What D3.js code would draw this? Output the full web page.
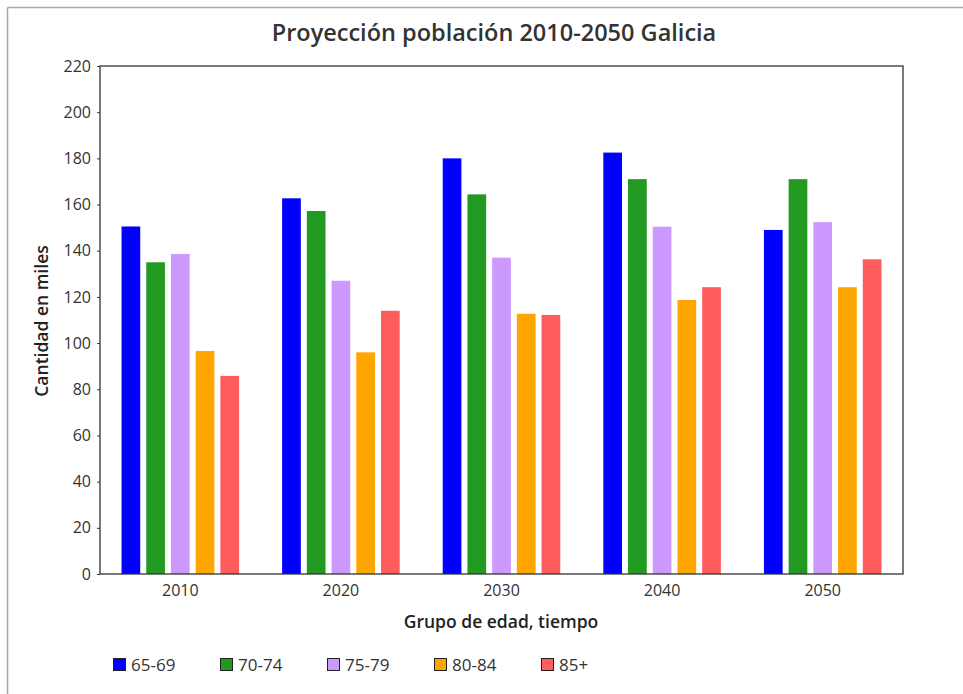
<!DOCTYPE html>
<html>
<head>
<meta charset="utf-8">
<script src="https://cdn.jsdelivr.net/npm/d3@7"></script>
<style>
  html, body { margin: 0; padding: 0; background: #fff; }
  svg { display: block; font-family: "Open Sans", "Noto Sans", sans-serif; }
</style>
</head>
<body>
<svg id="chart" width="963" height="694"></svg>
<script>
// Population projection for Galicia by age group (thousands)
const years = ["2010", "2020", "2030", "2040", "2050"];
const groups = ["65-69", "70-74", "75-79", "80-84", "85+"];
const colors = ["#0000ff", "#229a22", "#cc99ff", "#ffa500", "#ff5c5c"];
const v6569 = [150.5, 162.7, 180.0, 182.5, 149.0];
const v7074 = [135.0, 157.2, 164.4, 171.0, 171.0];
const v7579 = [138.6, 127.0, 137.0, 150.4, 152.4];
const v8084 = [96.6, 96.0, 112.7, 118.7, 124.2];
const v85 = [85.8, 114.0, 112.2, 124.2, 136.3];
const yTicks = [0, 20, 40, 60, 80, 100, 120, 140, 160, 180, 200, 220];

const seriesValues = [v6569, v7074, v7579, v8084, v85];

const svg = d3.select("#chart");
const W = 963, H = 694;
const m = { left: 100, right: 903, top: 66, bottom: 574 };

// page border (top and left edges)
svg.append("line").attr("x1", 7.5).attr("x2", W).attr("y1", 7.5).attr("y2", 7.5)
  .attr("stroke", "#a8a8a8").attr("stroke-width", 1.5);
svg.append("line").attr("x1", 7.5).attr("x2", 7.5).attr("y1", 7.5).attr("y2", H)
  .attr("stroke", "#a8a8a8").attr("stroke-width", 1.5);

const x0 = d3.scaleBand().domain(years).range([m.left, m.right])
  .paddingInner(0.268).paddingOuter(0.134);
const x1 = d3.scaleBand().domain(groups).range([0, x0.bandwidth()])
  .paddingInner(0.243).paddingOuter(0);
const y = d3.scaleLinear().domain([0, 220]).range([m.bottom, m.top]);

// bars
years.forEach((yr, i) => {
  const g = svg.append("g").attr("transform", `translate(${x0(yr)},0)`);
  g.selectAll("rect").data(groups).join("rect")
    .attr("x", d => x1(d))
    .attr("width", x1.bandwidth())
    .attr("y", (d, j) => y(seriesValues[j][i]))
    .attr("height", (d, j) => y(0) - y(seriesValues[j][i]))
    .attr("fill", (d, j) => colors[j]);
});

// y axis
const yAxis = svg.append("g").attr("transform", `translate(${m.left},0)`)
  .call(d3.axisLeft(y).tickValues(yTicks).tickSize(3).tickPadding(6));
yAxis.select(".domain").remove();
yAxis.selectAll("line").attr("stroke", "#333");
yAxis.selectAll("text").attr("font-size", 16).attr("fill", "#333")
  .attr("font-family", "'Open Sans', sans-serif");

// x axis labels
const xAxis = svg.append("g").attr("transform", `translate(0,${m.bottom})`)
  .call(d3.axisBottom(x0).tickSize(0).tickPadding(11));
xAxis.select(".domain").remove();
xAxis.selectAll("text").attr("font-size", 16).attr("fill", "#333")
  .attr("font-family", "'Open Sans', sans-serif");

// plot frame
svg.append("rect")
  .attr("x", m.left).attr("y", m.top)
  .attr("width", m.right - m.left).attr("height", m.bottom - m.top)
  .attr("fill", "none").attr("stroke", "#333").attr("stroke-width", 1.3);

// title
svg.append("text").attr("x", 494).attr("y", 41).attr("text-anchor", "middle")
  .attr("font-size", 23.5).attr("font-weight", 600).attr("fill", "#333")
  .text("Proyección población 2010-2050 Galicia");

// axis titles
svg.append("text").attr("x", 501).attr("y", 628).attr("text-anchor", "middle")
  .attr("font-size", 17.5).attr("font-weight", 600).attr("fill", "#222")
  .text("Grupo de edad, tiempo");
svg.append("text")
  .attr("transform", `translate(48,${(m.top + m.bottom) / 2 + 1}) rotate(-90)`)
  .attr("text-anchor", "middle")
  .attr("font-size", 17.5).attr("font-weight", 600).attr("fill", "#222")
  .text("Cantidad en miles");

// legend
const legendX = d3.scalePoint().domain(groups).range([113, 541]);
const lg = svg.append("g").selectAll("g").data(groups).join("g")
  .attr("transform", d => `translate(${legendX(d)},658)`);
lg.append("rect").attr("x", 0.5).attr("y", 0.5).attr("width", 12).attr("height", 12)
  .attr("fill", (d, j) => colors[j]).attr("stroke", "#222").attr("stroke-width", 1);
lg.append("text").attr("x", 18).attr("y", 12.5)
  .attr("font-size", 17).attr("fill", "#333").text(d => d);
</script>
</body>
</html>
